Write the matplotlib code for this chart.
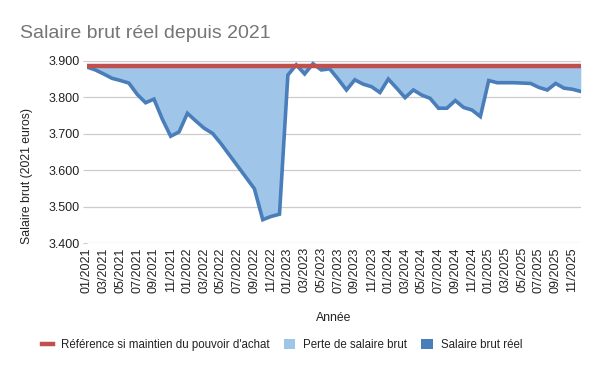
import matplotlib
matplotlib.use("Agg")
import matplotlib.pyplot as plt
from matplotlib.lines import Line2D
from matplotlib.patches import Patch

plt.rcParams['font.family'] = ['Liberation Sans', 'DejaVu Sans']

months = [f"{m:02d}/{y}" for y in range(2021, 2026) for m in range(1, 13)]
salaire_reel = [
    3.883, 3.875, 3.864, 3.852, 3.846, 3.839, 3.808, 3.785, 3.795, 3.740,
    3.693, 3.705, 3.756, 3.735, 3.715, 3.701, 3.673, 3.642, 3.611, 3.580,
    3.549, 3.464, 3.473, 3.479, 3.861, 3.889, 3.864, 3.892, 3.875, 3.878,
    3.850, 3.820, 3.848, 3.836, 3.829, 3.813, 3.850, 3.825, 3.799, 3.820,
    3.806, 3.797, 3.770, 3.770, 3.791, 3.772, 3.765, 3.747, 3.846, 3.840,
    3.840, 3.840, 3.839, 3.838, 3.827, 3.820, 3.838, 3.825, 3.822, 3.816,
]
reference = [3.885] * len(months)
y_ticks = [3.4, 3.5, 3.6, 3.7, 3.8, 3.9]
y_tick_labels = ["3.400", "3.500", "3.600", "3.700", "3.800", "3.900"]

fig = plt.figure(figsize=(6, 3.71), dpi=100)
ax = fig.add_axes([0.145, 0.345, 0.823, 0.491])

x = list(range(len(months)))
ax.fill_between(x, salaire_reel, reference, color="#9fc5e8", linewidth=0, zorder=2)
ax.plot(x, salaire_reel, color="#4a7ebb", linewidth=2.6, zorder=3, solid_joinstyle="miter")
ax.plot(x, reference, color="#c0504d", linewidth=3.2, zorder=4)

ax.set_xlim(0, len(months) - 1)
ax.set_ylim(3.4, 3.9)
ax.set_yticks(y_ticks)
ax.set_yticklabels(y_tick_labels)
ax.set_xticks(x[::2])
ax.set_xticklabels(months[::2], rotation=90)

for s in ax.spines.values():
    s.set_visible(False)
ax.grid(axis="y", color="#cccccc", linewidth=0.9, zorder=0)
ax.tick_params(axis="y", length=3, color="#cccccc", labelsize=9, labelcolor="#222222", pad=2)
ax.tick_params(axis="x", length=0, labelsize=9, labelcolor="#222222", pad=3)

ax.set_ylabel("Salaire brut (2021 euros)", fontsize=8.8, color="#222222", va="center", ha="center")
ax.yaxis.set_label_coords(-0.121, 0.368)
ax.set_xlabel("Année", fontsize=8.8, color="#222222", va="center", ha="center")
ax.xaxis.set_label_coords(0.5, -0.412)

fig.text(0.033, 0.888, "Salaire brut réel depuis 2021", fontsize=14, color="#757575", ha="left", va="bottom")

handles = [
    Line2D([0], [0], color="#c0504d", linewidth=3.2),
    Patch(facecolor="#9fc5e8", edgecolor="none"),
    Patch(facecolor="#4a7ebb", edgecolor="none"),
]
labels = ["Référence si maintien du pouvoir d'achat", "Perte de salaire brut", "Salaire brut réel"]
fig.legend(handles, labels, loc="center", bbox_to_anchor=(0.47, 0.07), ncol=3, frameon=False,
           fontsize=8.3, handlelength=1.0, handleheight=1.0, columnspacing=1.2, handletextpad=0.7,
           labelcolor="#222222")

fig.savefig("out.png", dpi=100)
